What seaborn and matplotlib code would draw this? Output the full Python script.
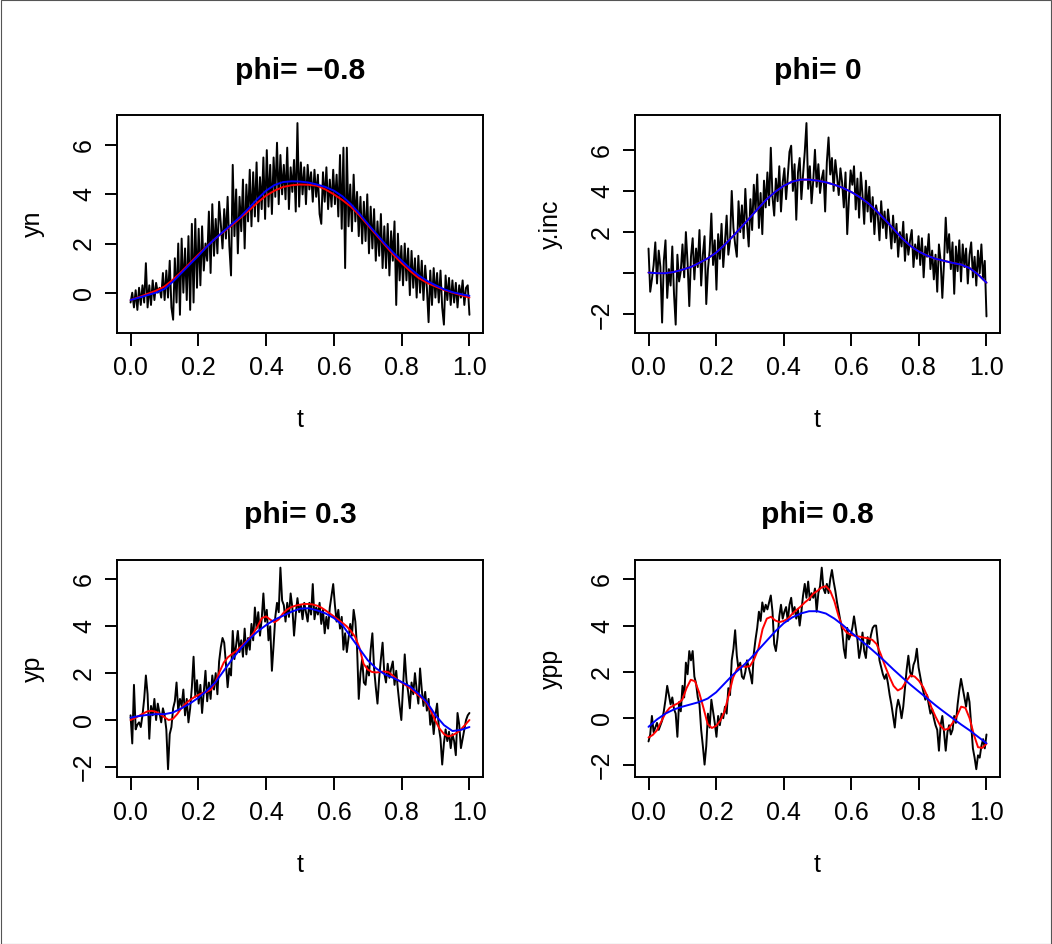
import numpy as np
import pandas as pd
import matplotlib
matplotlib.use("Agg")
import matplotlib.pyplot as plt
import seaborn as sns

# ---------------------------------------------------------------------------
# Observed series (200 equally spaced points on [0, 1]) for each phi
# ---------------------------------------------------------------------------
yn = [
    -0.4, 0.0, -0.6, 0.1, -0.7, 0.2, -0.5, 0.3, -0.4, 1.2,
    -0.6, 0.3, -0.5, 0.5, -0.3, 0.4, 0.0, 0.2, -0.2, 0.8,
    -0.3, 0.9, -0.2, 1.3, -0.6, -1.1, 1.4, -0.4, 2.0, -0.9,
    2.2, 0.0, 1.8, -0.3, 2.3, -0.7, 2.8, -0.4, 3.0, 0.2,
    2.6, 0.3, 2.7, 0.9, 2.0, 1.3, 3.3, 0.8, 3.6, 1.5,
    3.0, 1.6, 3.7, 2.8, 1.8, 3.4, 2.2, 3.9, 1.9, 0.7,
    5.2, 2.3, 4.2, 1.6, 3.9, 2.5, 4.6, 1.8, 4.4, 2.9,
    5.0, 2.7, 4.9, 3.1, 5.3, 2.9, 4.7, 3.4, 5.5, 3.0,
    5.8, 3.5, 5.2, 3.2, 5.5, 3.9, 6.1, 3.6, 5.6, 4.0,
    5.2, 3.8, 5.9, 3.4, 5.1, 4.1, 5.4, 3.3, 6.9, 3.5,
    5.3, 4.0, 5.1, 3.6, 5.2, 4.2, 4.9, 3.7, 5.0, 3.9,
    4.8, 3.2, 2.8, 4.9, 3.7, 5.1, 3.4, 4.6, 3.5, 5.0,
    3.6, 4.8, 3.1, 5.6, 2.6, 5.9, 1.0, 5.9, 2.7, 4.4,
    2.5, 4.8, 2.9, 4.1, 2.3, 3.9, 2.0, 3.7, 2.1, 4.0,
    1.6, 3.5, 1.8, 3.4, 1.3, 2.9, 1.5, 3.2, 1.0, 2.7,
    1.0, 2.8, 0.7, 2.5, 1.3, 2.9, -0.5, 2.4, 0.5, 1.9,
    0.3, 2.0, 0.5, 1.8, -0.1, 1.7, 0.2, 1.4, -0.2, 1.5,
    0.0, 1.3, -0.3, 1.1, 0.2, -1.2, 0.9, -0.5, 1.0, -0.2,
    0.8, -0.4, 0.9, -0.6, -1.3, 0.7, -0.3, 0.6, -0.5, 0.5,
    -0.4, 0.4, -0.6, 0.3, -0.2, 0.5, -0.5, 0.2, 0.3, -0.9,
]

y_inc = [
    1.2, -0.9, -0.3, 0.4, 1.5, -0.5, 1.1, 0.3, -2.4, 0.6,
    1.6, -1.2, 0.2, -0.6, 1.3, -1.0, -2.5, 0.9, -0.4, 0.1,
    1.4, -0.2, 2.0, 0.5, -1.6, 0.8, 1.7, -0.3, 1.2, 0.3,
    2.1, -0.6, 0.9, 1.8, -1.5, 0.2, 1.1, 2.9, 0.4, 1.6,
    -0.8, 1.9, 0.7, 2.4, 0.3, 1.5, 2.8, 0.9, 1.6, 4.0,
    2.2, 1.4, 0.8, 3.5, 2.0, 3.3, 1.7, 4.1, 2.4, 1.3,
    3.6, 2.1, 4.3, 3.0, 4.8, 2.2, 3.9, 1.9, 4.5, 3.2,
    4.9, 3.3, 6.1, 3.7, 2.8, 4.6, 3.5, 5.2, 3.0, 4.4,
    5.1, 3.6, 4.7, 5.9, 6.2, 4.0, 5.3, 2.6, 4.9, 5.6,
    3.6, 4.8, 5.9, 7.3, 4.1, 5.2, 3.4, 4.5, 6.0, 4.2,
    5.3, 3.9, 4.6, 5.0, 3.0, 5.4, 6.6, 4.8, 5.6, 4.0,
    5.5, 4.7, 3.8, 5.1, 4.4, 3.2, 4.9, 1.9, 3.6, 5.0,
    4.3, 5.2, 3.1, 4.6, 2.7, 4.9, 3.8, 2.4, 4.5, 3.0,
    4.2, 2.5, 3.7, 1.9, 3.3, 2.8, 1.6, 3.5, 2.2, 3.0,
    1.7, 3.1, 2.3, 1.2, 2.8, 1.5, 2.4, 0.8, 2.0, 1.3,
    2.5, 0.6, 1.9, 0.9, 1.6, 2.1, 0.3, 1.4, 0.7, 1.8,
    0.4, 1.7, -0.2, 1.3, 0.8, 1.9, 0.2, 1.1, -0.3, 0.9,
    -0.9, 1.4, 0.6, -1.2, 0.5, 2.7, 1.0, 1.9, 0.2, 1.5,
    -1.0, 1.3, 0.1, 1.6, -0.4, 1.4, 0.3, 1.2, -0.5, 0.9,
    1.5, -0.2, 0.8, -0.6, 1.1, 0.0, 1.4, -0.3, 0.6, -2.1,
]

yp = [
    0.2, -1.0, 1.5, -0.4, -0.2, -0.1, -0.3, 0.2, 0.9, 1.9,
    1.1, -0.8, 0.6, 0.2, 0.9, 0.0, 0.7, 0.3, -0.1, 0.5,
    0.2, -0.4, -2.1, -0.6, -0.3, 0.5, 0.8, 1.6, 0.4, 0.9,
    0.6, 1.3, 0.2, 0.9, -0.1, 0.5, 1.4, 2.7, 1.0, 1.7,
    0.7, 1.5, 0.3, 1.2, 2.1, 0.8, 1.6, 0.9, 1.9, 1.3,
    2.0, 1.1, 2.5, 3.1, 3.5, 3.3, 2.4, 1.4, 2.2, 1.9,
    3.8, 2.6, 3.2, 3.8, 2.9, 3.4, 2.7, 3.9, 2.8, 3.5,
    3.0, 4.1, 3.4, 4.8, 3.9, 4.6, 3.6, 4.3, 5.4, 4.2,
    4.7, 3.4, 4.0, 2.1, 3.2, 4.4, 5.0, 4.6, 6.5, 5.1,
    4.9, 4.2, 5.0, 4.4, 5.4, 4.8, 3.6, 4.5, 5.2, 4.6,
    4.9, 4.3, 5.0, 4.6, 4.2, 5.0, 4.5, 5.8, 4.3, 4.8,
    4.5, 5.0, 4.1, 4.7, 3.7, 4.4, 3.9, 4.8, 5.3, 5.8,
    4.9, 4.2, 4.7, 3.9, 4.4, 3.0, 3.7, 2.9, 3.5, 4.1,
    3.6, 4.7, 4.2, 3.1, 0.9, 2.0, 2.6, 1.6, 1.5, 2.3,
    1.9, 3.0, 3.7, 2.2, 1.4, 0.7, 1.8, 2.6, 3.3, 2.0,
    1.6, 2.4, 1.8, 2.2, 2.5, 1.5, 2.1, 1.3, 0.6, 0.0,
    1.4, 2.8, 1.7, 1.2, 0.5, 1.6, 1.1, 2.0, 1.3, 0.7,
    2.2, 1.3, 0.6, 1.2, 0.4, 0.9, -0.2, 0.3, -0.6, 0.2,
    0.7, -0.3, -0.8, -1.9, -1.0, -0.4, -0.9, -0.5, -1.2, -0.6,
    -0.9, -1.5, 0.3, -0.2, -1.2, -0.8, -0.4, 0.0, 0.2, 0.3,
]

ypp = [
    -1.0, -0.7, 0.1, -0.6, -0.4, -0.2, -0.5, -0.3, -0.1, 0.3,
    0.8, 1.4, 1.0, 0.6, 0.9, 0.4, 0.2, -0.8, 0.7, 0.3,
    1.4, 0.9, 2.4, 1.9, 2.9, 2.5, 2.9, 1.8, 1.5, 0.9,
    0.6, -0.5, -1.2, -2.0, -1.2, 0.2, -0.4, 0.8, 0.3, -0.2,
    -0.8, 0.1, -0.3, 0.2, 0.0, 0.5, 0.2, 1.3, 1.0, 2.5,
    3.0, 3.8, 2.7, 2.1, 2.4, 1.8, 1.7, 2.0, 2.5, 2.2,
    1.9, 1.5, 2.8, 3.4, 3.9, 4.6, 4.2, 5.0, 4.6, 4.9,
    4.7, 5.0, 5.3, 4.6, 3.2, 2.9, 3.5, 4.4, 4.9, 4.3,
    4.6, 4.8, 4.2, 4.9, 5.2, 4.5, 4.8, 4.3, 4.7, 4.0,
    4.6, 5.3, 5.8, 5.2, 5.9, 5.1, 5.4, 5.2, 5.6, 4.6,
    5.4, 5.7, 6.5, 5.6, 5.4, 5.8, 5.4, 6.0, 6.4, 5.9,
    5.5, 5.0, 4.6, 4.2, 3.8, 3.0, 2.6, 3.9, 3.4, 3.6,
    3.9, 4.4, 3.9, 3.4, 2.6, 3.0, 3.7, 2.9, 2.6, 3.5,
    3.2, 3.6, 3.9, 4.0, 4.0, 3.3, 2.5, 2.2, 1.9, 1.7,
    1.9, 1.5, 1.0, 0.6, 0.1, -0.4, 0.4, 0.8, 0.5, 0.0,
    0.5, 1.3, 2.1, 2.7, 2.0, 1.8, 2.3, 2.5, 3.0, 2.2,
    1.8, 1.4, 1.1, 0.8, 1.0, 0.6, 0.2, 0.4, 0.0, -0.3,
    -0.5, -1.4, -0.3, 0.1, -0.6, -1.4, -0.6, -0.3, -0.7, -0.5,
    0.1, -0.2, 0.6, 1.2, 1.7, 1.3, 0.9, 0.5, 1.1, 0.7,
    -0.3, -1.3, -1.7, -2.2, -1.6, -1.7, -1.2, -0.9, -1.3, -0.7,
]

# ---------------------------------------------------------------------------
# Fitted curves on an even grid over [0, 1]:
# red = bandwidth chosen ignoring the correlation, blue = corrected bandwidth
# ---------------------------------------------------------------------------
red_n = [-0.3, -0.18, -0.05, 0.08, 0.25, 0.53, 0.85, 1.2, 1.55, 1.88, 2.2,
         2.48, 2.75, 3.05, 3.35, 3.67, 3.95, 4.15, 4.3, 4.37, 4.4,
         4.39, 4.35, 4.2, 4.0, 3.77, 3.5, 3.15, 2.75, 2.35, 1.95,
         1.55, 1.2, 0.88, 0.6, 0.4, 0.25, 0.11, 0.0, -0.1, -0.2]
blue_n = [-0.3, -0.2, -0.1, 0.0, 0.15, 0.45, 0.8, 1.15, 1.5, 1.87, 2.2,
          2.5, 2.8, 3.1, 3.45, 3.82, 4.15, 4.38, 4.5, 4.53, 4.52,
          4.48, 4.4, 4.3, 4.15, 3.92, 3.6, 3.22, 2.8, 2.4, 2.0,
          1.63, 1.3, 0.98, 0.7, 0.48, 0.3, 0.14, 0.02, -0.06, -0.13]

red_inc = [0.03, 0.0, 0.0, 0.06, 0.17, 0.3, 0.5, 0.72, 1.0, 1.38, 1.8,
           2.25, 2.7, 3.16, 3.6, 3.96, 4.25, 4.45, 4.55, 4.55, 4.5,
           4.42, 4.3, 4.15, 3.95, 3.7, 3.4, 3.02, 2.6, 2.15, 1.7,
           1.33, 1.05, 0.85, 0.7, 0.6, 0.5, 0.42, 0.25, -0.06, -0.46]
blue_inc = [0.03, 0.0, 0.0, 0.06, 0.17, 0.3, 0.5, 0.72, 1.0, 1.38, 1.8,
            2.25, 2.7, 3.16, 3.6, 3.96, 4.25, 4.45, 4.55, 4.55, 4.5,
            4.42, 4.3, 4.15, 3.95, 3.7, 3.4, 3.02, 2.6, 2.15, 1.7,
            1.33, 1.05, 0.85, 0.7, 0.6, 0.5, 0.42, 0.25, -0.06, -0.46]

red_p = [0.0, 0.08, 0.18, 0.28, 0.37, 0.39, 0.35, 0.25, 0.12, 0.0,
         0.05, 0.25, 0.5, 0.7, 0.85, 0.97, 1.07, 1.15, 1.2, 1.3,
         1.6, 2.05, 2.45, 2.68, 2.82, 2.95, 3.12, 3.3, 3.47, 3.7,
         4.0, 4.35, 4.42, 4.28, 4.17, 4.3, 4.55, 4.72, 4.82, 4.88,
         4.92, 4.95, 4.95, 4.93, 4.88, 4.8, 4.68, 4.55, 4.42, 4.28,
         4.15, 4.0, 3.8, 3.55, 3.1, 2.4, 2.15, 2.05, 2.03, 2.05,
         2.07, 2.03, 1.88, 1.72, 1.6, 1.48, 1.36, 1.2, 1.05, 0.9,
         0.7, 0.35, -0.05, -0.38, -0.6, -0.7, -0.65, -0.55, -0.4, -0.2,
         0.0]
blue_p = [0.1, 0.17, 0.22, 0.25, 0.25, 0.32, 0.5, 0.7, 0.95, 1.25, 1.6,
          2.1, 2.6, 3.05, 3.45, 3.78, 4.05, 4.28, 4.45, 4.62, 4.75,
          4.77, 4.68, 4.55, 4.35, 4.05, 3.55, 3.05, 2.55, 2.2, 1.95,
          1.8, 1.62, 1.43, 1.12, 0.75, 0.2, -0.22, -0.47, -0.42, -0.3]

red_pp = [-0.83, -0.72, -0.52, -0.15, 0.22, 0.45, 0.56, 0.65, 0.8, 1.3,
          1.66, 1.6, 1.1, 0.45, -0.25, -0.42, -0.33, -0.1, 0.3, 1.0,
          1.75, 2.15, 2.25, 2.22, 2.25, 2.55, 3.0, 3.85, 4.3, 4.38,
          4.22, 4.15, 4.2, 4.3, 4.5, 4.67, 4.82, 5.0, 5.15, 5.38,
          5.5, 5.65, 5.7, 5.5, 5.05, 4.4, 3.9, 3.68, 3.6, 3.55,
          3.52, 3.48, 3.45, 3.38, 3.2, 2.75, 2.25, 1.8, 1.4, 1.2,
          1.3, 1.6, 1.85, 1.8, 1.62, 1.35, 0.95, 0.45, 0.05, -0.3,
          -0.5, -0.45, -0.2, 0.1, 0.5, 0.45, 0.0, -0.7, -1.25, -1.28,
          -1.1]
blue_pp = [-0.37, -0.05, 0.2, 0.38, 0.5, 0.6, 0.7, 0.85, 1.12, 1.5, 1.88,
           2.2, 2.55, 2.95, 3.35, 3.75, 4.1, 4.35, 4.52, 4.62, 4.62,
           4.52, 4.3, 4.02, 3.7, 3.4, 3.1, 2.78, 2.45, 2.1, 1.77,
           1.45, 1.15, 0.85, 0.55, 0.27, 0.0, -0.27, -0.52, -0.8, -1.08]

titles = ["phi= \u22120.8", "phi= 0", "phi= 0.3", "phi= 0.8"]
ylabels = ["yn", "y.inc", "yp", "ypp"]
yticks = [[0, 2, 4, 6], [-2, 0, 2, 4, 6], [-2, 0, 2, 4, 6], [-2, 0, 2, 4, 6]]
ytick_labels = [["0", "2", "4", "6"],
                ["\u22122", "", "2", "4", "6"],
                ["\u22122", "0", "2", "4", "6"],
                ["\u22122", "0", "2", "4", "6"]]
xticks = [0.0, 0.2, 0.4, 0.6, 0.8, 1.0]
xtick_labels = ["0.0", "0.2", "0.4", "0.6", "0.8", "1.0"]

observed = [yn, y_inc, yp, ypp]
red_fits = [red_n, red_inc, red_p, red_pp]
blue_fits = [blue_n, blue_inc, blue_p, blue_pp]

# ---------------------------------------------------------------------------
sns.set_theme(style="white")
plt.rcParams["font.family"] = ["Liberation Sans", "DejaVu Sans"]
plt.rcParams["axes.unicode_minus"] = True

W, H = 1052, 944
fig = plt.figure(figsize=(W / 100, H / 100), dpi=100)
fig.patch.set_facecolor("white")

# panel boxes in pixels: (left, top, right, bottom)
boxes = [(117, 115, 483, 332.7), (635, 115, 1000, 332.7),
         (117, 559.6, 483, 777.3), (635, 559.6, 1000, 777.3)]

LW = 1.4
for k in range(4):
    l, t, r, b = boxes[k]
    ax = fig.add_axes([l / W, 1 - b / H, (r - l) / W, (b - t) / H])

    y_obs = observed[k]
    df_obs = pd.DataFrame({"t": np.linspace(0, 1, len(y_obs)), "y": y_obs})
    df_red = pd.DataFrame({"t": np.linspace(0, 1, len(red_fits[k])), "y": red_fits[k]})
    df_blue = pd.DataFrame({"t": np.linspace(0, 1, len(blue_fits[k])), "y": blue_fits[k]})

    sns.lineplot(data=df_obs, x="t", y="y", ax=ax, color="black", linewidth=LW,
                 estimator=None, sort=False)
    sns.lineplot(data=df_red, x="t", y="y", ax=ax, color="#FF0000", linewidth=LW,
                 estimator=None, sort=False)
    sns.lineplot(data=df_blue, x="t", y="y", ax=ax, color="#0000FF", linewidth=LW,
                 estimator=None, sort=False)

    # R-style limits: data range padded by 4 %
    lo, hi = min(y_obs), max(y_obs)
    pad = 0.04 * (hi - lo)
    ax.set_ylim(lo - pad, hi + pad)
    ax.set_xlim(-0.04, 1.04)

    ax.set_xticks(xticks)
    ax.set_xticklabels(xtick_labels)
    ax.set_yticks(yticks[k])
    ax.set_yticklabels(ytick_labels[k], rotation=90, va="center")

    ax.tick_params(axis="both", which="major", direction="out", length=9,
                   width=LW, color="black", labelsize=18, labelcolor="black",
                   bottom=True, left=True)
    ax.tick_params(axis="x", pad=8)
    ax.tick_params(axis="y", pad=6)

    for sp in ax.spines.values():
        sp.set_visible(True)
        sp.set_color("black")
        sp.set_linewidth(LW)
    ax.grid(False)
    ax.set_facecolor("white")

    ax.set_xlabel("t", fontsize=18, color="black", labelpad=20)
    ax.set_ylabel(ylabels[k], fontsize=18, color="black", labelpad=20)
    ax.set_title(titles[k], fontsize=21.6, fontweight="bold", color="black", pad=26)

# thin frame around the whole figure
fig.add_artist(plt.Rectangle((0.0005, 0.0005), 0.999, 0.999, transform=fig.transFigure,
                             fill=False, edgecolor="#555555", linewidth=0.8))

fig.savefig("out.png", dpi=100, facecolor="white")
